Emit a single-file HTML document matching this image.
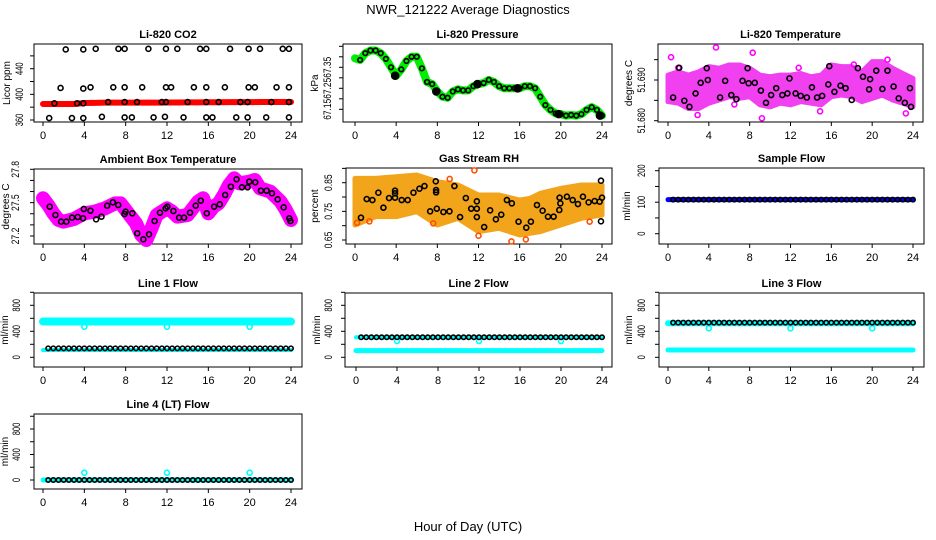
<!DOCTYPE html>
<html><head><meta charset="utf-8">
<style>
html,body{margin:0;padding:0;background:#fff;}
svg{display:block;font-family:"Liberation Sans",Arial,sans-serif;}
</style></head>
<body>
<svg id="chart" xmlns="http://www.w3.org/2000/svg" width="936" height="540" viewBox="0 0 936 540">
<rect x="0" y="0" width="936" height="540" fill="#fff"/>
<text x="468" y="14" text-anchor="middle" font-size="13">NWR_121222  Average Diagnostics</text>
<text x="468" y="531" text-anchor="middle" font-size="13">Hour of Day (UTC)</text>
</svg>
<script>
// ---------- DATA ----------
const hourTicks = [0,4,8,12,16,20,24];
const hourly = [0,1,2,3,4,5,6,7,8,9,10,11,12,13,14,15,16,17,18,19,20,21,22,23,24];
const halfStep = 0.5;

// CO2
const co2BandV = [384.9,385,385,385,386.5,386.8,387,387,387,387,387,387,387.2,387.3,387.4,387.5,387.6,387.7,387.8,387.8,387.9,388,388,388,388];
const co2TopT = [2.2,3.9,5.1,7.3,7.9,10.2,11.9,13,15.2,15.8,18.1,19.9,21,23.2,23.8];
const co2TopV = [470,470,471,471,471,471,471,471,471,471,471,471,471,471,471];
const co2MidT = [1.7,3.9,4.6,6.8,7.9,9.6,11.9,12.4,14.6,15.8,17.6,19.9,20.5,22.6,23.8];
const co2MidV = [410,409,411,411,411,411,411,411,411,411,411,411,411,411,411];
const co2LowT = [1.1,3.3,3.9,6.3,7.9,9.1,11.5,11.9,14,15.8,17,19.1,19.8,22.1,23.8];
const co2LowV = [386,386,386,388,388,388,388,388,388,388,388,388,388,388,388];
const co2BotT = [0.6,2.8,3.9,5.7,7.9,8.6,10.7,11.8,13.6,15.8,16.4,18.7,19.8,21.6,23.8];
const co2BotV = [363,363,363,365,364,364,364,365,364,364,364,364,364,364,364];

// Pressure (0 .. 24 step 0.5)
const pressBandV = [67.393,67.385,67.417,67.43,67.43,67.417,67.39,67.35,67.31,67.34,67.38,67.40,67.40,67.345,67.28,67.27,67.235,67.21,67.205,67.235,67.245,67.24,67.24,67.26,67.27,67.275,67.29,67.28,67.26,67.25,67.25,67.25,67.25,67.26,67.26,67.25,67.21,67.17,67.147,67.13,67.127,67.12,67.123,67.12,67.127,67.147,67.16,67.147,67.12];
const pressFilledT = [3.9,7.9,11.9,15.8,19.8,23.8];
const pressFilledV = [67.31,67.235,67.27,67.25,67.127,67.12];

// Li-820 temperature
const tempBandUp = [51.6912,51.6920,51.6912,51.6920,51.6933,51.6929,51.6937,51.6937,51.6929,51.6912,51.6908,51.6912,51.6912,51.6916,51.6908,51.6912,51.6937,51.6933,51.6933,51.6920,51.6945,51.6945,51.6929,51.6916,51.6904];
const tempBandLo = [51.6847,51.6843,51.6830,51.6830,51.6843,51.6851,51.6859,51.6855,51.6859,51.6839,51.6834,51.6843,51.6839,51.6847,51.6843,51.6839,51.6859,51.6863,51.6859,51.6847,51.6855,51.6863,51.6851,51.6843,51.6834];
const tempOutT = [0.3,4.7,8.3,9.2,2.9,23.3,14.9,1.0,6.5,12.8,18.2,21.5];
const tempOutV = [51.6956,51.6980,51.6967,51.6806,51.6814,51.6818,51.6823,51.6930,51.6840,51.6930,51.6938,51.6950];
const tempBlackT = [0.5,1.1,1.6,2.1,2.7,3.2,3.8,3.9,5.1,5.6,6.2,6.7,7.3,7.8,7.9,8.5,9.1,9.6,10.1,10.6,11.2,11.7,11.9,12.5,13.0,13.6,14.1,14.6,15.1,15.7,15.8,16.3,16.9,17.4,18.0,18.6,19.1,19.7,19.8,20.4,21.0,21.5,22.1,22.6,23.2,23.7,23.8];
const tempBlackV = [51.6857,51.6930,51.6849,51.6834,51.6867,51.6893,51.6929,51.6900,51.6857,51.6898,51.6863,51.6853,51.6898,51.6929,51.6892,51.6893,51.6874,51.6844,51.6863,51.6880,51.6863,51.6867,51.6904,51.6867,51.6861,51.6857,51.6882,51.6857,51.6861,51.6889,51.6934,51.6871,51.6886,51.6880,51.6851,51.6929,51.6908,51.6877,51.6902,51.6923,51.6878,51.6923,51.6884,51.6855,51.6844,51.6880,51.6834];

// Ambient box temperature
const ambT = [0,0.5,1,1.5,2,3,4,5,6,7,7.5,8,9,9.5,10,10.5,11,12,12.5,13,14,15,15.5,16,16.5,17,17.5,18,18.5,19,20,20.5,21,22,23,23.5,24];
const ambV = [27.539,27.479,27.404,27.344,27.329,27.353,27.404,27.419,27.449,27.494,27.494,27.434,27.314,27.209,27.164,27.269,27.389,27.449,27.419,27.374,27.389,27.509,27.539,27.404,27.464,27.494,27.569,27.659,27.719,27.674,27.689,27.704,27.629,27.599,27.509,27.434,27.344];
const ambBlackT = [0.65,1.20,1.75,2.26,2.81,3.36,3.88,3.95,4.59,5.14,5.66,6.21,6.76,7.28,7.89,7.99,8.64,9.12,9.71,10.26,10.80,11.32,11.87,12.03,12.62,13.17,13.65,14.23,14.78,15.27,15.85,16.56,17.11,17.63,18.18,18.73,19.25,19.80,19.96,20.54,21.09,21.64,22.16,22.71,23.29,23.84,23.94];
const ambBlackV = [27.464,27.389,27.329,27.329,27.365,27.371,27.359,27.443,27.428,27.350,27.374,27.473,27.503,27.479,27.398,27.419,27.404,27.224,27.170,27.215,27.335,27.410,27.449,27.464,27.425,27.365,27.365,27.410,27.473,27.518,27.404,27.464,27.485,27.569,27.644,27.710,27.638,27.638,27.689,27.683,27.608,27.608,27.584,27.530,27.458,27.359,27.335];

// Gas stream RH
const rhBandT = [0,2,4,6,8,10,12,14,16,17,18,20,22,24];
const rhBandUp = [0.8651,0.8651,0.8709,0.8767,0.8535,0.8419,0.8070,0.8070,0.7895,0.7953,0.8128,0.8302,0.8419,0.8419];
const rhBandLo = [0.7023,0.7314,0.7314,0.7488,0.7023,0.7256,0.6791,0.6907,0.6674,0.6733,0.6791,0.7023,0.7256,0.7372];
const rhOutT = [11.6,15.2,16.6,12.0,7.6,0.2,1.4,9.2,22.8];
const rhOutV = [0.8930,0.6450,0.6520,0.6650,0.7080,0.7100,0.7150,0.8630,0.7140];
const rhBlackT = [0.58,1.14,1.69,2.27,2.76,3.31,3.89,3.89,3.89,4.54,5.12,5.68,6.26,6.75,7.30,7.85,7.88,7.88,7.95,8.59,9.18,9.66,10.21,10.77,11.29,11.84,11.84,11.84,12.55,13.13,13.69,14.21,14.76,15.24,15.89,16.64,17.09,17.68,18.23,18.75,19.30,19.85,19.88,19.95,20.59,21.15,21.66,22.15,22.70,23.29,23.77,23.90,24.00,23.90];
const rhBlackV = [0.7279,0.7930,0.7895,0.8151,0.7628,0.7965,0.8221,0.8128,0.7977,0.7895,0.7895,0.8151,0.8291,0.8384,0.7500,0.8547,0.8244,0.8163,0.7593,0.7477,0.7500,0.8384,0.7302,0.7965,0.7593,0.7593,0.7849,0.7302,0.6953,0.7535,0.7221,0.7384,0.7895,0.7779,0.7140,0.6930,0.7140,0.7721,0.7523,0.7314,0.7314,0.7547,0.7977,0.7779,0.8012,0.7895,0.7756,0.8012,0.7814,0.7860,0.7837,0.8570,0.7977,0.7151];

// Flows (black circles every 0.5 h from 0.5 to 24)
const sampleBlueV = [108,108,108,108,108,108,108,108,108,108,108,108,108,108,108,108,108,108,108,108,108,108,108,108,108];
const sampleBlackV = [108,108,108,108,108,108,108,108,108,108,108,108,108,108,108,108,108,108,108,108,108,108,108,108,108,108,108,108,108,108,108,108,108,108,108,108,108,108,108,108,108,108,108,108,108,108,108,108];
const line1UpperV = [550,550,550,550,550,550,550,550,550,550,550,550,550,550,550,550,550,550,550,550,550,550,550,550,550];
const line1LowerV = [113,113,113,113,113,113,113,113,113,113,113,113,113,113,113,113,113,113,113,113,113,113,113,113,113];
const line1BlackV = [138,138,138,138,138,138,138,138,138,138,138,138,138,138,138,138,138,138,138,138,138,138,138,138,138,138,138,138,138,138,138,138,138,138,138,138,138,138,138,138,138,138,138,138,138,138,138,138];
const line2UpperV = [308,308,308,308,308,308,308,308,308,308,308,308,308,308,308,308,308,308,308,308,308,308,308,308,308];
const line2LowerV = [103,103,103,103,103,103,103,103,103,103,103,103,103,103,103,103,103,103,103,103,103,103,103,103,103];
const line2BlackV = [308,308,308,308,308,308,308,308,308,308,308,308,308,308,308,308,308,308,308,308,308,308,308,308,308,308,308,308,308,308,308,308,308,308,308,308,308,308,308,308,308,308,308,308,308,308,308,308];
const line3UpperV = [523,523,523,523,523,523,523,523,523,523,523,523,523,523,523,523,523,523,523,523,523,523,523,523,523];
const line3LowerV = [113,113,113,113,113,113,113,113,113,113,113,113,113,113,113,113,113,113,113,113,113,113,113,113,113];
const line3BlackV = [533,533,533,533,533,533,533,533,533,533,533,533,533,533,533,533,533,533,533,533,533,533,533,533,533,533,533,533,533,533,533,533,533,533,533,533,533,533,533,533,533,533,533,533,533,533,533,533];
const line4CyanV = [0,0,0,0,0,0,0,0,0,0,0,0,0,0,0,0,0,0,0,0,0,0,0,0,0];
const line4BlackV = [0,0,0,0,0,0,0,0,0,0,0,0,0,0,0,0,0,0,0,0,0,0,0,0,0,0,0,0,0,0,0,0,0,0,0,0,0,0,0,0,0,0,0,0,0,0,0,0];
const dipT = [4,12,20];
const line1DipV = [470,470,470];
const line2DipV = [251,251,251];
const line3DipV = [446,446,446];
const line4DipV = [114,114,114];

const co2Ticks = [360,380,400,420,440,460];      const co2Labels = ["360","","400","","440",""];
const pressTicks = [67.15,67.20,67.25,67.30,67.35,67.40,67.45]; const pressLabels = ["67.15","","67.25","","67.35","",""];
const tempTicks = [51.680,51.685,51.690,51.695]; const tempLabels = ["51.680","","51.690",""];
const ambTicks = [27.2,27.3,27.4,27.5,27.6,27.7,27.8]; const ambLabels = ["27.2","","","27.5","","","27.8"];
const rhTicks = [0.65,0.70,0.75,0.80,0.85,0.90]; const rhLabels = ["0.65","","0.75","","0.85",""];
const sampleTicks = [0,50,100,150,200]; const sampleLabels = ["0","","100","","200"];
const flowTicks = [0,200,400,600,800,1000]; const flowLabels = ["0","","400","","800",""];

// ---------- DRAWING ----------
const NS = "http://www.w3.org/2000/svg";
const svg = document.getElementById('chart');
function mk(tag, attrs, parent){ const e=document.createElementNS(NS,tag); for(const k in attrs) e.setAttribute(k,attrs[k]); (parent||svg).appendChild(e); return e; }

function panel(name, title, ylab, L, yTicks, yLabels){
  const g = mk('g',{});
  
  
  const xs = h => L.x0 + (h/24)*(L.x24-L.x0);
  const ys = v => L.ya + (v-L.va)*(L.yb-L.ya)/(L.vb-L.va);
  const box = mk('rect',{x:L.l,y:L.t,width:L.r-L.l,height:L.b-L.t,fill:'none',stroke:'#000','stroke-width':1},g);
  
  
  const tt = mk('text',{x:(L.l+L.r)/2,y:L.t-6,'text-anchor':'middle','font-size':11,'font-weight':'bold'},g);
  tt.textContent = title;
  
  
  const xa = mk('g',{},g);
  
  
  hourTicks.forEach(h=>{
    mk('line',{x1:xs(h),x2:xs(h),y1:L.b,y2:L.b+4,stroke:'#000'},xa);
    const t = mk('text',{x:xs(h),y:L.b+17,'text-anchor':'middle','font-size':11},xa);
    t.textContent = h;
    
    
  });
  const ya = mk('g',{},g);
  
  
  yTicks.forEach((v,i)=>{
    const y = ys(v);
    mk('line',{x1:L.l-4,x2:L.l,y1:y,y2:y,stroke:'#000'},ya);
    if(yLabels[i]){
      const t = mk('text',{x:L.lx,y:y,'text-anchor':'middle','font-size':11,textLength:yLabels[i].length*4.2,lengthAdjust:'spacingAndGlyphs',transform:'rotate(-90 '+L.lx+' '+y+')'},ya);
      t.textContent = yLabels[i];
      
      
    }
  });
  const yt = mk('text',{x:L.tx,y:(L.t+L.b)/2,'text-anchor':'middle','font-size':10,transform:'rotate(-90 '+L.tx+' '+((L.t+L.b)/2)+')'},g);
  yt.textContent = ylab;
  
  
  const clip = mk('g',{},g);
  
  
  return {g:clip, xs, ys};
}
function band(P, T, V, color, w, nm){
  const pts = T.map((t,i)=>P.xs(t)+','+P.ys(V[i])).join(' ');
  const p = mk('polyline',{points:pts,fill:'none',stroke:color,'stroke-width':w,'stroke-linejoin':'round','stroke-linecap':'round'},P.g);
  
  
}
function area(P, T, U, Lo, color, nm){
  const pts = T.map((t,i)=>P.xs(t)+','+P.ys(U[i])).concat(T.slice().reverse().map((t,j)=>{const i=T.length-1-j; return P.xs(t)+','+P.ys(Lo[i]);})).join(' ');
  const p = mk('polygon',{points:pts,fill:color,stroke:color,'stroke-width':5,'stroke-linejoin':'round'},P.g);
  
  
}
function pts(P, T, V, color, nm, r, filled){
  T.forEach((t,i)=>{
    const c = mk('circle',{cx:P.xs(t),cy:P.ys(V[i]),r:r||2.5,fill:filled?color:'none',stroke:color,'stroke-width':1.6},P.g);
    
    
  });
}
const halfT = v => v.map((_,i)=>(i+1)*halfStep);
const fullHalfT = v => v.map((_,i)=>i*halfStep);

// Row 1
let P = panel('co2','Li-820 CO2','Licor ppm',{l:34,t:44,r:302,b:122,x0:43,x24:291,va:360,ya:120,vb:440,yb:68.7,lx:23,tx:10},co2Ticks,co2Labels);
band(P,hourly,co2BandV,'#ff0000',6,'co2-red-band');
pts(P,co2TopT,co2TopV,'#000','co2-point');
pts(P,co2MidT,co2MidV,'#000','co2-point');
pts(P,co2LowT,co2LowV,'#000','co2-point');
pts(P,co2BotT,co2BotV,'#000','co2-point');

P = panel('pressure','Li-820 Pressure','kPa',{l:343,t:44,r:612,b:122,x0:355,x24:602,va:67.15,ya:109.3,vb:67.35,yb:67.3,lx:331,tx:318},pressTicks,pressLabels);
band(P,fullHalfT(pressBandV),pressBandV,'#00ee00',8,'pressure-green-band');
pts(P,halfT(pressBandV.slice(1)),pressBandV.slice(1),'#000','pressure-point',2.3);
pts(P,pressFilledT,pressFilledV,'#000','pressure-filled-point',3.5,true);

P = panel('temperature','Li-820 Temperature','degrees C',{l:658,t:44,r:923,b:122,x0:668,x24:913,va:51.680,ya:120.7,vb:51.690,yb:80,lx:645,tx:632},tempTicks,tempLabels);
area(P,hourly,tempBandUp,tempBandLo,'#f040f0','temperature-magenta-cloud');
pts(P,tempOutT,tempOutV,'#ff00ff','temperature-magenta-point');
pts(P,tempBlackT,tempBlackV,'#000','temperature-point');

// Row 2
P = panel('ambient','Ambient Box Temperature','degrees C',{l:34,t:169,r:302,b:244,x0:43,x24:291,va:27.2,ya:236,vb:27.8,yb:169.3,lx:19,tx:9},ambTicks,ambLabels);
band(P,ambT,ambV,'#ff00ff',14,'ambient-magenta-band');
pts(P,ambBlackT,ambBlackV,'#000','ambient-point');

P = panel('rh','Gas Stream RH','percent',{l:346,t:168,r:612,b:244,x0:355,x24:602,va:0.65,ya:240,vb:0.85,yb:182.7,lx:332,tx:318},rhTicks,rhLabels);
area(P,rhBandT,rhBandUp,rhBandLo,'#f2a51a','rh-orange-cloud');
pts(P,rhOutT,rhOutV,'#ff5000','rh-orange-point');
pts(P,rhBlackT,rhBlackV,'#000','rh-point');

P = panel('sample-flow','Sample Flow','ml/min',{l:659,t:168,r:924,b:244,x0:668,x24:913,va:0,ya:233.7,vb:200,yb:170.7,lx:645,tx:630},sampleTicks,sampleLabels);
band(P,hourly,sampleBlueV,'#0000ff',5,'sample-flow-blue-line');
pts(P,halfT(sampleBlackV),sampleBlackV,'#000','sample-flow-point',2.2);

// Row 3
P = panel('line1','Line 1 Flow','ml/min',{l:34,t:293,r:302,b:367,x0:43,x24:291,va:0,ya:357.3,vb:800,yb:305.3,lx:20,tx:8},flowTicks,flowLabels);
band(P,hourly,line1UpperV,'#00ffff',8,'line1-cyan-upper');
band(P,hourly,line1LowerV,'#00ffff',4,'line1-cyan-lower');
pts(P,dipT,line1DipV,'#00ffff','line1-cyan-dip');
pts(P,halfT(line1BlackV),line1BlackV,'#000','line1-point',2.2);

P = panel('line2','Line 2 Flow','ml/min',{l:345,t:293,r:612,b:367,x0:356,x24:602,va:0,ya:357.3,vb:800,yb:305.3,lx:332,tx:320},flowTicks,flowLabels);
band(P,hourly,line2UpperV,'#00ffff',4,'line2-cyan-upper');
band(P,hourly,line2LowerV,'#00ffff',5,'line2-cyan-lower');
pts(P,dipT,line2DipV,'#00ffff','line2-cyan-dip');
pts(P,halfT(line2BlackV),line2BlackV,'#000','line2-point',2.2);

P = panel('line3','Line 3 Flow','ml/min',{l:659,t:293,r:924,b:367,x0:668,x24:913,va:0,ya:357.3,vb:800,yb:305.3,lx:645,tx:632},flowTicks,flowLabels);
band(P,hourly,line3UpperV,'#00ffff',6,'line3-cyan-upper');
band(P,hourly,line3LowerV,'#00ffff',5,'line3-cyan-lower');
pts(P,dipT,line3DipV,'#00ffff','line3-cyan-dip');
pts(P,halfT(line3BlackV),line3BlackV,'#000','line3-point',2.2);

// Row 4
P = panel('line4','Line 4 (LT) Flow','ml/min',{l:34,t:414,r:302,b:489,x0:43,x24:291,va:0,ya:480,vb:800,yb:429,lx:20,tx:8},flowTicks,flowLabels);
band(P,hourly,line4CyanV,'#00ffff',5,'line4-cyan-line');
pts(P,dipT,line4DipV,'#00ffff','line4-cyan-dip');
pts(P,halfT(line4BlackV),line4BlackV,'#000','line4-point',2.2);
</script>
</body></html>
